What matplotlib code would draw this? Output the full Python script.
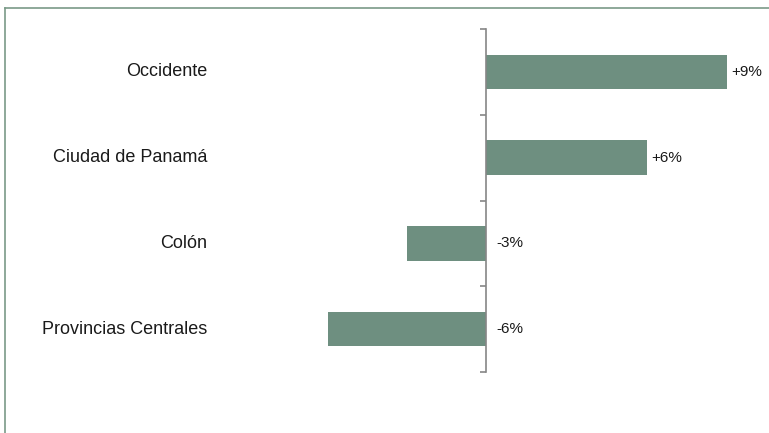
import matplotlib
matplotlib.use("Agg")
import matplotlib.pyplot as plt
from matplotlib.lines import Line2D
from matplotlib.transforms import blended_transform_factory, offset_copy

categories = ["Occidente", "Ciudad de Panamá", "Colón", "Provincias Centrales"]
values = [9, 6, -2.95, -5.9]
labels = ["+9%", "+6%", "-3%", "-6%"]

plt.rcParams['font.family'] = ['Liberation Sans', 'DejaVu Sans']

W, H = 769, 433
fig = plt.figure(figsize=(W / 100, H / 100), dpi=100)

# frame lines (left and top)
border_color = "#7a9a88"
fig.add_artist(Line2D([4.5 / W, 4.5 / W], [0, 1 - 8 / H], transform=fig.transFigure,
                      color=border_color, lw=1.2))
fig.add_artist(Line2D([4.5 / W, 1], [1 - 8 / H, 1 - 8 / H], transform=fig.transFigure,
                      color=border_color, lw=1.2))

xmin, xmax = -7, 10
px_per = 26.8
zero_px = 486
left_px = zero_px + xmin * px_per
right_px = zero_px + xmax * px_per
top_px, bot_px = 29, 372
ax = fig.add_axes([left_px / W, 1 - bot_px / H, (right_px - left_px) / W, (bot_px - top_px) / H])
ax.set_xlim(xmin, xmax)
n = len(categories)
ypos = list(range(n))
ax.set_ylim(n - 0.5, -0.5)

ax.barh(ypos, values, height=0.4, color="#6e8f80", zorder=2)

for s in ["top", "right", "bottom"]:
    ax.spines[s].set_visible(False)
ax.spines["left"].set_position(("data", 0))
ax.spines["left"].set_color("#868686")
ax.spines["left"].set_linewidth(1.2)
ax.set_xticks([])
ax.set_yticks([i - 0.5 for i in range(n + 1)])
ax.set_yticklabels([])
ax.tick_params(axis="y", direction="out", length=4, width=1.2, color="#868686")

trans_lab = blended_transform_factory(fig.transFigure, ax.transData)
for i, c in enumerate(categories):
    ax.text(207 / W, i, c, transform=trans_lab, ha="right", va="center",
            fontsize=13, color="#1a1a1a")

for i, (v, l) in enumerate(zip(values, labels)):
    if v >= 0:
        t = offset_copy(ax.transData, fig=fig, x=4, y=0, units="dots")
        ax.text(v, i, l, transform=t, ha="left", va="center", fontsize=11, color="#1a1a1a")
    else:
        t = offset_copy(ax.transData, fig=fig, x=10, y=0, units="dots")
        ax.text(0, i, l, transform=t, ha="left", va="center", fontsize=11, color="#1a1a1a")

fig.savefig("out.png", dpi=100)
